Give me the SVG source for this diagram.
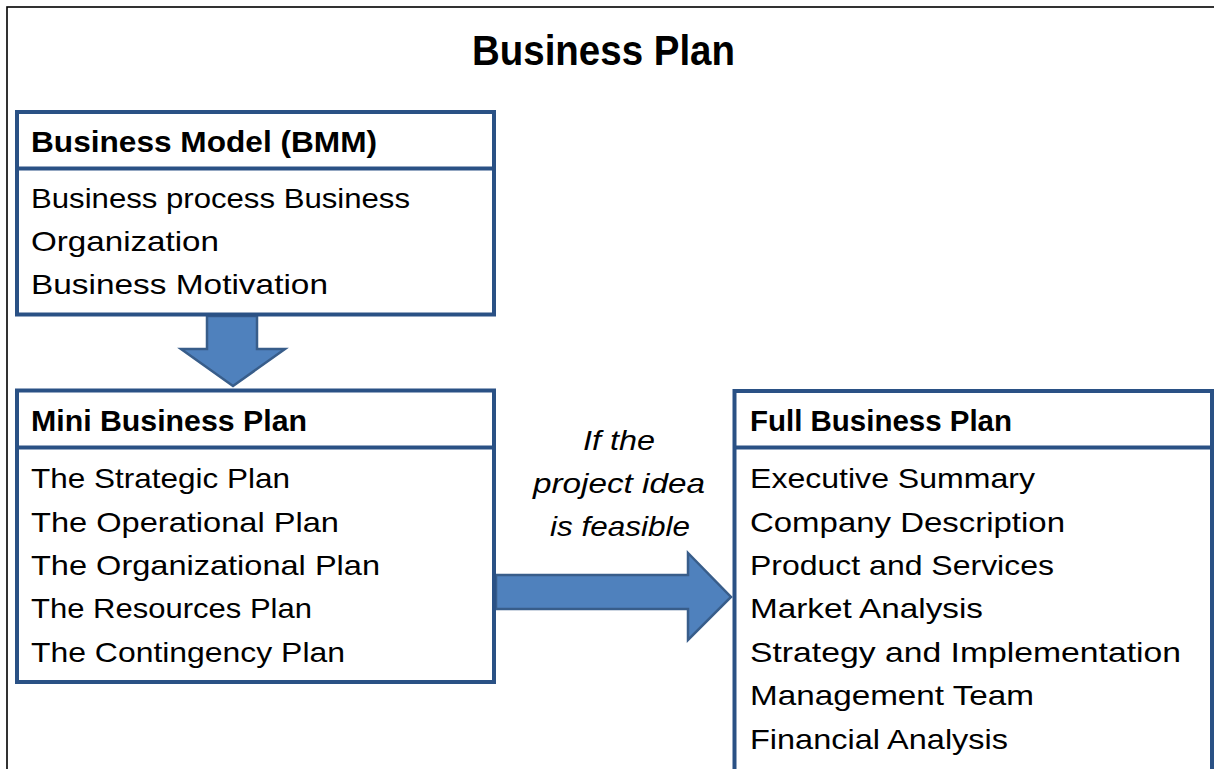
<svg xmlns="http://www.w3.org/2000/svg" width="1214" height="769" viewBox="0 0 1214 769">
<style>
.frame{fill:none;stroke:#000;stroke-width:1.6}
.box{fill:#fff;stroke:#2a5185;stroke-width:4}
.sep{stroke:#2a5185;stroke-width:4}
.arrow{fill:#4f81bd;stroke:#385d8a;stroke-width:2.5;stroke-linejoin:miter}
text{font-family:"Liberation Sans",Arial,sans-serif;fill:#000}
.title{font-size:42px;font-weight:bold}
.hdr{font-size:29px;font-weight:bold}
.body{font-size:28px}
.lbl{font-size:28px;font-style:italic}
</style>
<rect class="frame" x="7" y="7" width="1230" height="800"/>
<text class="title" x="472" y="65" textLength="263" lengthAdjust="spacingAndGlyphs">Business Plan</text>

<g id="connectors">
<polygon class="arrow" points="207,316 257,316 257,349 285,349 233,386 181,349 207,349"/>
<polygon class="arrow" points="496,575 688,575 688,553 731,597 688,640 688,609 496,609"/>
<g id="label-feasible">
<text class="lbl" x="583" y="450" textLength="72" lengthAdjust="spacingAndGlyphs">If the</text>
<text class="lbl" x="533" y="493" textLength="172" lengthAdjust="spacingAndGlyphs">project idea</text>
<text class="lbl" x="550" y="536" textLength="140" lengthAdjust="spacingAndGlyphs">is feasible</text>
</g>
</g>

<g id="bmm">
<rect class="box" x="17" y="112" width="477" height="202.5"/>
<line class="sep" x1="17" y1="168.5" x2="494" y2="168.5"/>
<text class="hdr" x="31" y="152" textLength="346" lengthAdjust="spacingAndGlyphs">Business Model (BMM)</text>
<text class="body" x="31" y="208" textLength="379" lengthAdjust="spacingAndGlyphs">Business process Business</text>
<text class="body" x="31" y="251" textLength="188" lengthAdjust="spacingAndGlyphs">Organization</text>
<text class="body" x="31" y="294" textLength="297" lengthAdjust="spacingAndGlyphs">Business Motivation</text>
</g>

<g id="mini">
<rect class="box" x="17" y="390.5" width="477" height="291.5"/>
<line class="sep" x1="17" y1="447.5" x2="494" y2="447.5"/>
<text class="hdr" x="31" y="431" textLength="276" lengthAdjust="spacingAndGlyphs">Mini Business Plan</text>
<text class="body" x="31" y="488" textLength="259" lengthAdjust="spacingAndGlyphs">The Strategic Plan</text>
<text class="body" x="31" y="532" textLength="308" lengthAdjust="spacingAndGlyphs">The Operational Plan</text>
<text class="body" x="31" y="575" textLength="349" lengthAdjust="spacingAndGlyphs">The Organizational Plan</text>
<text class="body" x="31" y="618" textLength="281" lengthAdjust="spacingAndGlyphs">The Resources Plan</text>
<text class="body" x="31" y="662" textLength="314" lengthAdjust="spacingAndGlyphs">The Contingency Plan</text>
</g>

<g id="full">
<rect class="box" x="734.5" y="391" width="477.5" height="400"/>
<line class="sep" x1="734.5" y1="447.5" x2="1212" y2="447.5"/>
<text class="hdr" x="750" y="431" textLength="262" lengthAdjust="spacingAndGlyphs">Full Business Plan</text>
<text class="body" x="750" y="488" textLength="285" lengthAdjust="spacingAndGlyphs">Executive Summary</text>
<text class="body" x="750" y="532" textLength="315" lengthAdjust="spacingAndGlyphs">Company Description</text>
<text class="body" x="750" y="575" textLength="304" lengthAdjust="spacingAndGlyphs">Product and Services</text>
<text class="body" x="750" y="618" textLength="233" lengthAdjust="spacingAndGlyphs">Market Analysis</text>
<text class="body" x="750" y="662" textLength="431" lengthAdjust="spacingAndGlyphs">Strategy and Implementation</text>
<text class="body" x="750" y="705" textLength="284" lengthAdjust="spacingAndGlyphs">Management Team</text>
<text class="body" x="750" y="749" textLength="258" lengthAdjust="spacingAndGlyphs">Financial Analysis</text>
</g>
</svg>
